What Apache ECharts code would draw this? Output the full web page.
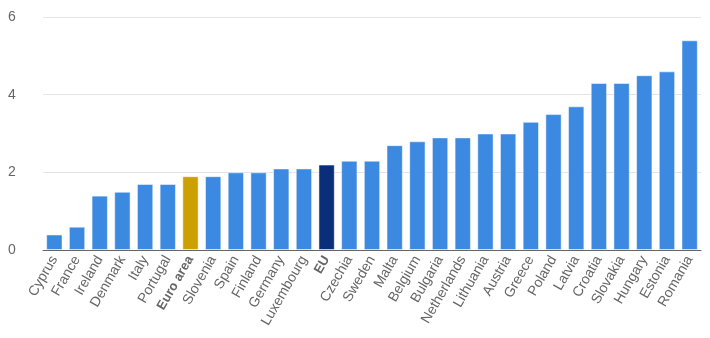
<!DOCTYPE html>
<html><head><meta charset="utf-8">
<script src="https://cdn.jsdelivr.net/npm/echarts@6/dist/echarts.min.js"></script>
<style>html,body{margin:0;padding:0;background:#fff}#c{width:710px;height:338px}</style>
</head><body><div id="c"></div>
<script>
const categories = ["Cyprus","France","Ireland","Denmark","Italy","Portugal","Euro area","Slovenia","Spain","Finland","Germany","Luxembourg","EU","Czechia","Sweden","Malta","Belgium","Bulgaria","Netherlands","Lithuania","Austria","Greece","Poland","Latvia","Croatia","Slovakia","Hungary","Estonia","Romania"];
const values = [0.4,0.6,1.4,1.5,1.7,1.7,1.9,1.9,2.0,2.0,2.1,2.1,2.2,2.3,2.3,2.7,2.8,2.9,2.9,3.0,3.0,3.3,3.5,3.7,4.3,4.3,4.5,4.6,5.4];
const yTicks = [0,2,4,6];
const highlight = {"Euro area":"#cca000","EU":"#0b2e7b"};
const baseColor = "#3b89e0";
const FF = '"Liberation Sans", Arial, sans-serif';
const chart = echarts.init(document.getElementById('c'));
chart.setOption({
  animation:false,
  grid:{left:43,right:9,top:17,bottom:88},
  xAxis:{type:'category',data:categories,
    axisLine:{lineStyle:{color:'#666'}},
    axisTick:{lineStyle:{color:'#666'},length:5},
    axisLabel:{rotate:60,interval:0,color:'#666',fontSize:14,fontFamily:FF,margin:7,
      formatter:v=> (highlight[v]? '{b|'+v+'}' : v),
      rich:{b:{fontWeight:'bold',color:'#666',fontSize:13,fontFamily:FF}}}},
  yAxis:{type:'value',min:yTicks[0],max:yTicks[yTicks.length-1],interval:2,
    axisLine:{show:false},axisTick:{show:false},
    splitLine:{lineStyle:{color:'#e3e3ea'}},
    axisLabel:{color:'#666',fontSize:14,fontFamily:FF,align:'left',margin:35}},
  series:[{type:'bar',barCategoryGap:'28%',
    data:values.map((v,i)=>({value:v,itemStyle:{color:highlight[categories[i]]||baseColor}})),
    itemStyle:{borderColor:'rgba(255,255,255,0.5)',borderWidth:1}}]
});
</script></body></html>
